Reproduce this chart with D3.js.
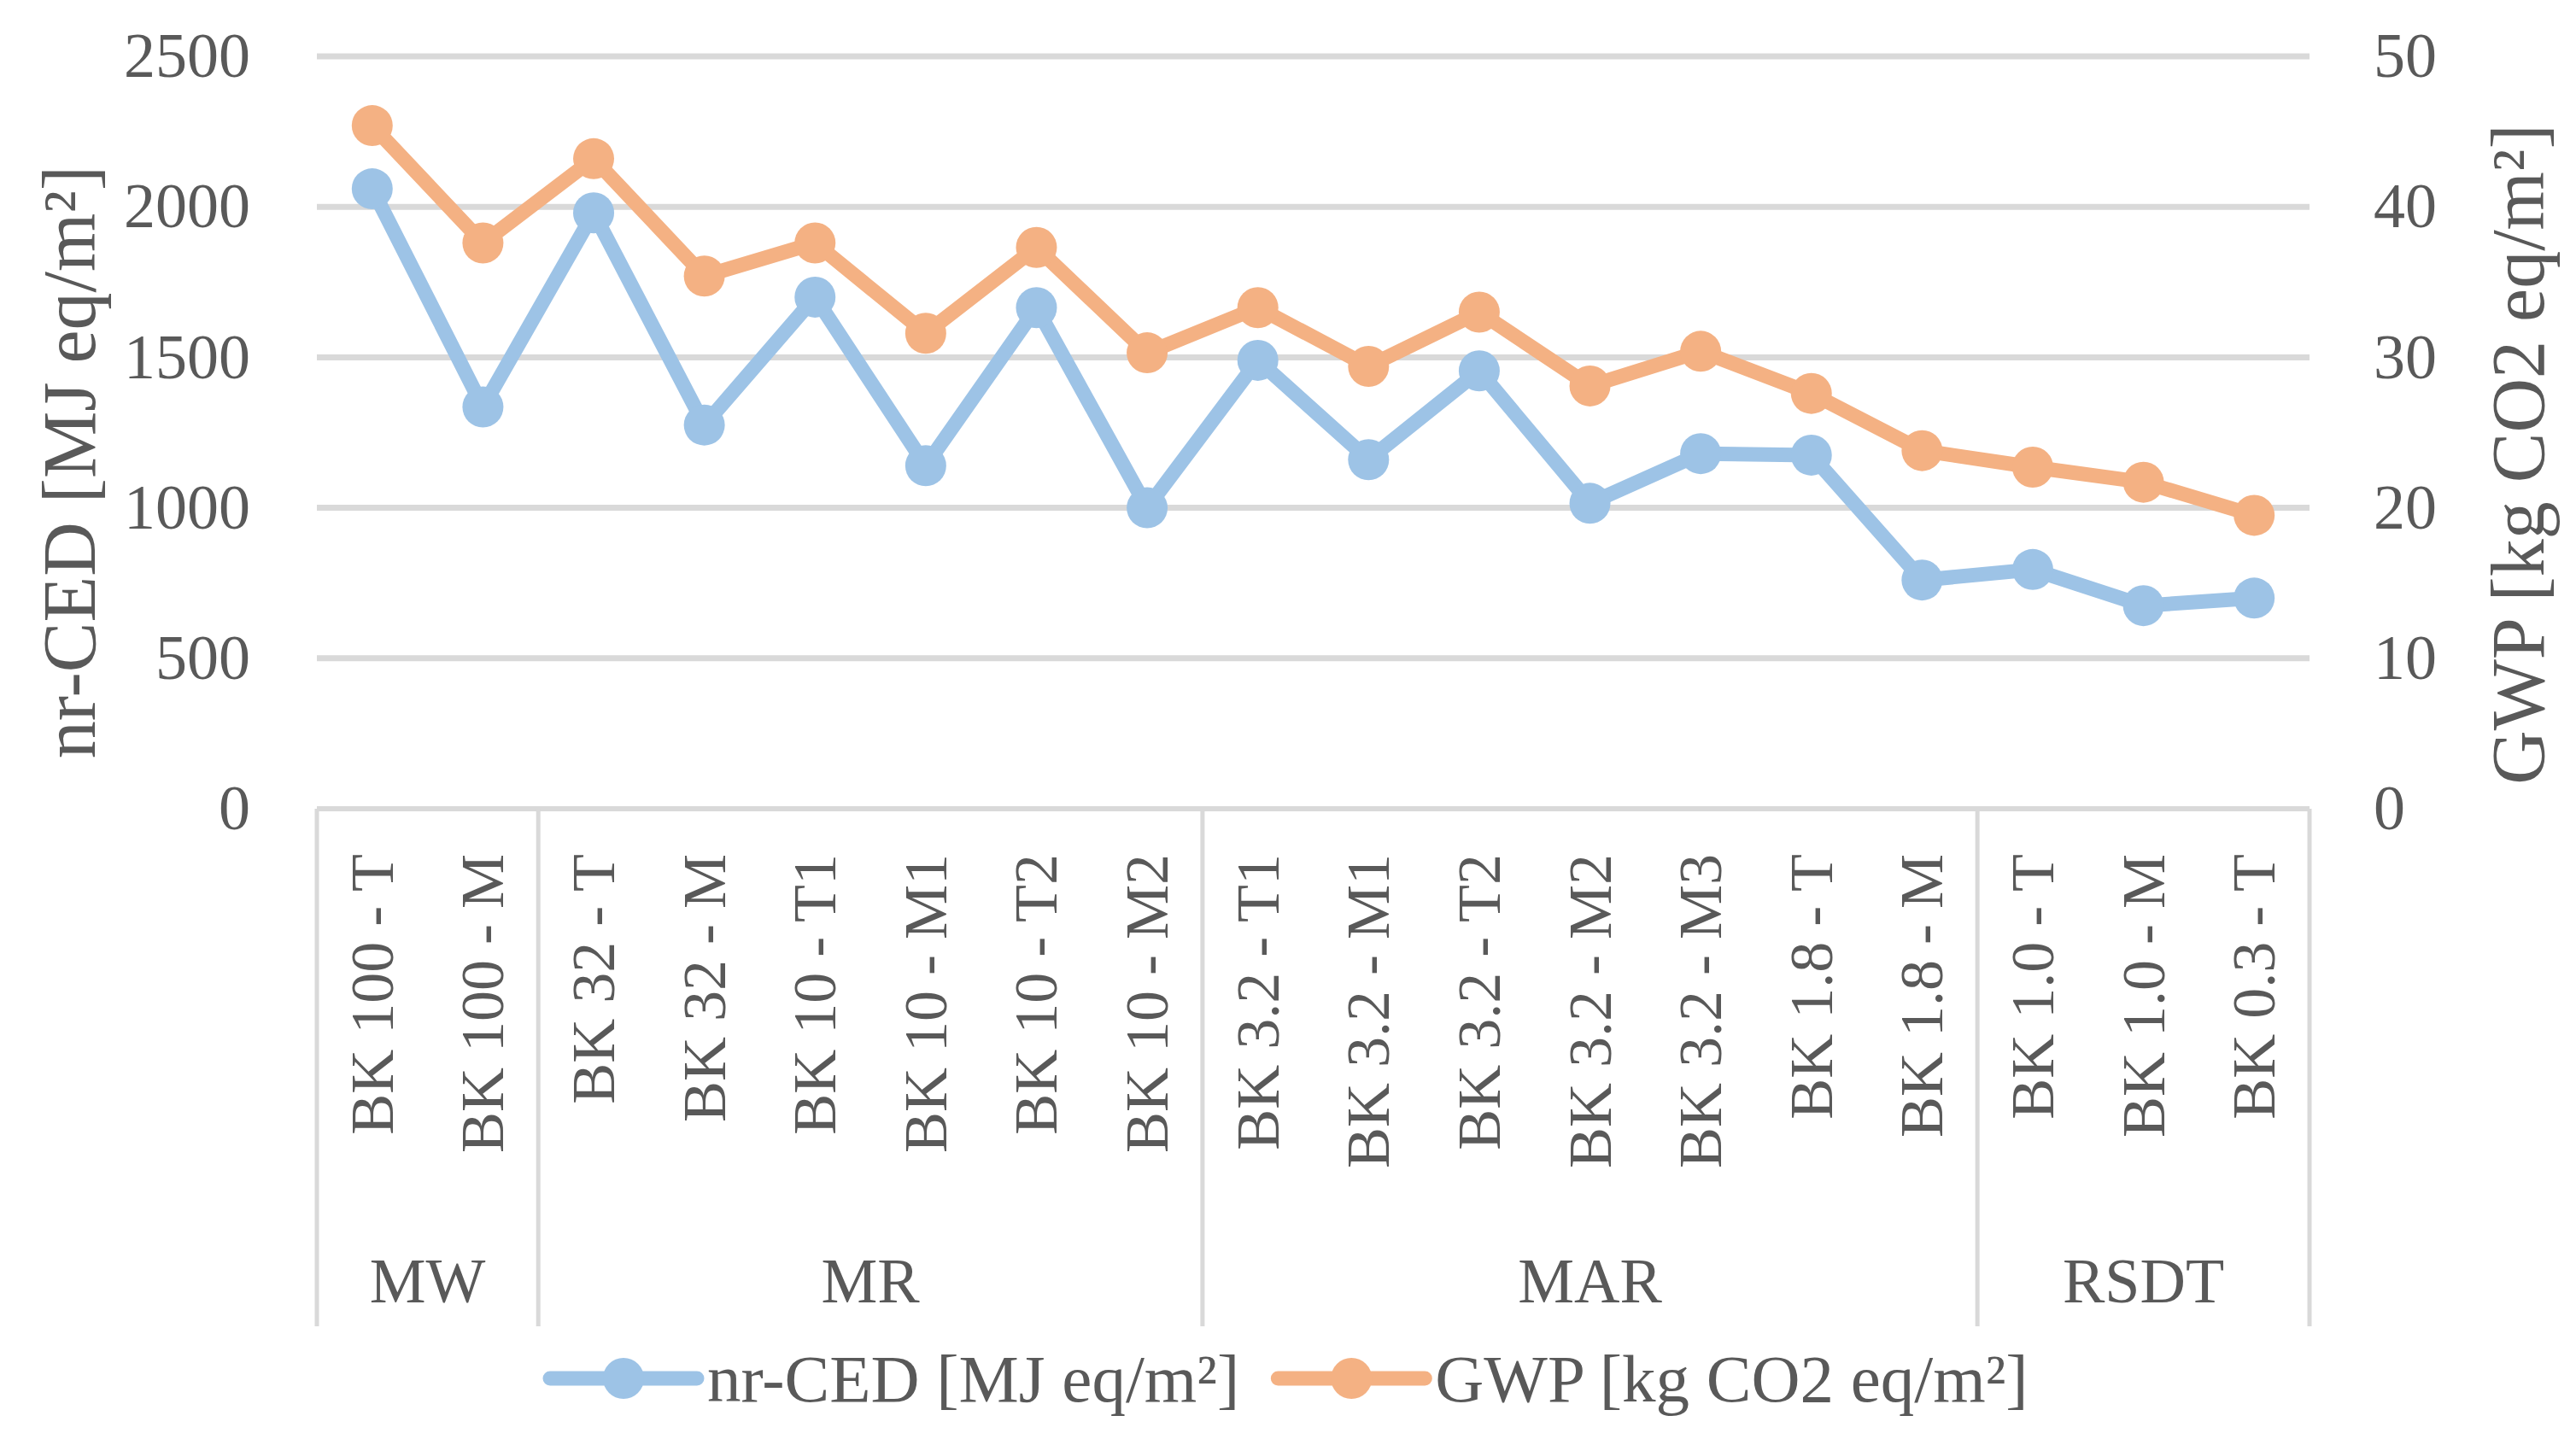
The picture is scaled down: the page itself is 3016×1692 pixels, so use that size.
<!DOCTYPE html>
<meta charset="utf-8">
<style>
    body { margin: 0; background: #fff; }
    svg text { font-family: 'Liberation Serif', 'DejaVu Serif', serif; fill: #595959; }
</style>
<body>
<svg id="chart"></svg>
<script src="https://cdn.jsdelivr.net/npm/d3@7"></script>
<script>
    // data
    var categories = ["BK 100 - T", "BK 100 - M", "BK 32 - T", "BK 32 - M", "BK 10 - T1", "BK 10 - M1",
        "BK 10 - T2", "BK 10 - M2", "BK 3.2 - T1", "BK 3.2 - M1", "BK 3.2 - T2", "BK 3.2 - M2",
        "BK 3.2 - M3", "BK 1.8 - T", "BK 1.8 - M", "BK 1.0 - T", "BK 1.0 - M", "BK 0.3 - T"];
    var groups = ["MW", "MR", "MAR", "RSDT"];
    var groupSizes = [2, 6, 7, 3];
    var nrCED = [2060, 1335, 1980, 1275, 1700, 1140, 1665, 1000, 1490, 1160, 1455, 1015, 1180, 1175, 760, 795, 675, 700];
    var gwp = [45.4, 37.6, 43.2, 35.4, 37.6, 31.6, 37.3, 30.3, 33.3, 29.4, 33.0, 28.1, 30.4, 27.6, 23.8, 22.7, 21.7, 19.5];
    var leftTicks = [0, 500, 1000, 1500, 2000, 2500];
    var rightTicks = [0, 10, 20, 30, 40, 50];
    var seriesNames = ["nr-CED [MJ eq/m²]", "GWP [kg CO2 eq/m²]"];
    var colors = ["#9dc3e6", "#f4b183"];

    var W = 3016, H = 1692;
    var pLeft = 371, pRight = 2704, pTop = 66, pBottom = 947;

    var svg = d3.select("#chart").attr("width", W).attr("height", H);

    var x = d3.scaleBand().domain(d3.range(categories.length)).range([pLeft, pRight]);
    var yL = d3.scaleLinear().domain([0, 2500]).range([pBottom, pTop]);
    var yR = d3.scaleLinear().domain([0, 50]).range([pBottom, pTop]);
    var cx = function (i) { return x(i) + x.bandwidth() / 2; };

    // gridlines
    svg.append("g").selectAll("line")
        .data(leftTicks.slice(1))
        .enter().append("line")
        .attr("x1", pLeft).attr("x2", pRight)
        .attr("y1", function (d) { return yL(d); })
        .attr("y2", function (d) { return yL(d); })
        .attr("stroke", "#d9d9d9").attr("stroke-width", 7);

    // left axis
    var axL = svg.append("g")
        .attr("transform", "translate(293,0)")
        .call(d3.axisLeft(yL).tickValues(leftTicks).tickFormat(d3.format("d")).tickSize(0).tickPadding(0));
    axL.select(".domain").remove();
    axL.selectAll("text").style("font-size", "74px").attr("fill", "#595959")
        .style("font-family", "'Liberation Serif', serif");

    // right axis
    var axR = svg.append("g")
        .attr("transform", "translate(2779,0)")
        .call(d3.axisRight(yR).tickValues(rightTicks).tickFormat(d3.format("d")).tickSize(0).tickPadding(0));
    axR.select(".domain").remove();
    axR.selectAll("text").style("font-size", "74px").attr("fill", "#595959")
        .style("font-family", "'Liberation Serif', serif");

    // axis titles
    svg.append("text")
        .attr("transform", "translate(81,541)rotate(-90)")
        .attr("text-anchor", "middle").attr("dominant-baseline", "central")
        .style("font-size", "88px").text(seriesNames[0]);
    svg.append("text")
        .attr("transform", "translate(2948,532)rotate(-90)")
        .attr("text-anchor", "middle").attr("dominant-baseline", "central")
        .style("font-size", "88px").text(seriesNames[1]);

    // category axis with group separators
    var sepBottom = 1553;
    svg.append("line")
        .attr("x1", pLeft).attr("x2", pRight).attr("y1", pBottom).attr("y2", pBottom)
        .attr("stroke", "#d9d9d9").attr("stroke-width", 6);

    var starts = [0];
    groupSizes.forEach(function (n, i) { starts.push(starts[i] + n); });
    var edge = function (k) { return k < categories.length ? x(k) : pRight; };

    svg.append("g").selectAll("line")
        .data(starts)
        .enter().append("line")
        .attr("x1", edge).attr("x2", edge)
        .attr("y1", pBottom).attr("y2", sepBottom)
        .attr("stroke", "#d9d9d9").attr("stroke-width", 5);

    svg.append("g").selectAll("text")
        .data(categories)
        .enter().append("text")
        .attr("transform", function (d, i) { return "translate(" + cx(i) + ",1000)rotate(-90)"; })
        .attr("text-anchor", "end").attr("dominant-baseline", "central")
        .style("font-size", "72px")
        .text(function (d) { return d; });

    svg.append("g").selectAll("text")
        .data(groups)
        .enter().append("text")
        .attr("x", function (d, i) { return (edge(starts[i]) + edge(starts[i + 1])) / 2; })
        .attr("y", 1525)
        .attr("text-anchor", "middle")
        .style("font-size", "74px")
        .text(function (d) { return d; });

    // lines + markers
    var series = [
        { values: nrCED, y: yL, color: colors[0] },
        { values: gwp, y: yR, color: colors[1] }
    ];
    series.forEach(function (s) {
        var line = d3.line()
            .x(function (d, i) { return cx(i); })
            .y(function (d) { return s.y(d); });
        svg.append("path")
            .datum(s.values)
            .attr("d", line)
            .attr("fill", "none")
            .attr("stroke", s.color)
            .attr("stroke-width", 17)
            .attr("stroke-linejoin", "round");
        svg.append("g").selectAll("circle")
            .data(s.values)
            .enter().append("circle")
            .attr("cx", function (d, i) { return cx(i); })
            .attr("cy", function (d) { return s.y(d); })
            .attr("r", 24)
            .attr("fill", s.color);
    });

    // legend
    var legY = 1614;
    var lx = 644;
    seriesNames.forEach(function (name, i) {
        var g = svg.append("g");
        g.append("line")
            .attr("x1", lx).attr("x2", lx + 172)
            .attr("y1", legY).attr("y2", legY)
            .attr("stroke", colors[i]).attr("stroke-width", 17)
            .attr("stroke-linecap", "round");
        g.append("circle")
            .attr("cx", lx + 86).attr("cy", legY).attr("r", 24)
            .attr("fill", colors[i]);
        var t = g.append("text")
            .attr("x", lx + 184).attr("y", legY)
            .attr("dominant-baseline", "central")
            .style("font-size", "79px")
            .text(name);
        lx = lx + 184 + t.node().getComputedTextLength() + 45;
    });
</script>
</body>
